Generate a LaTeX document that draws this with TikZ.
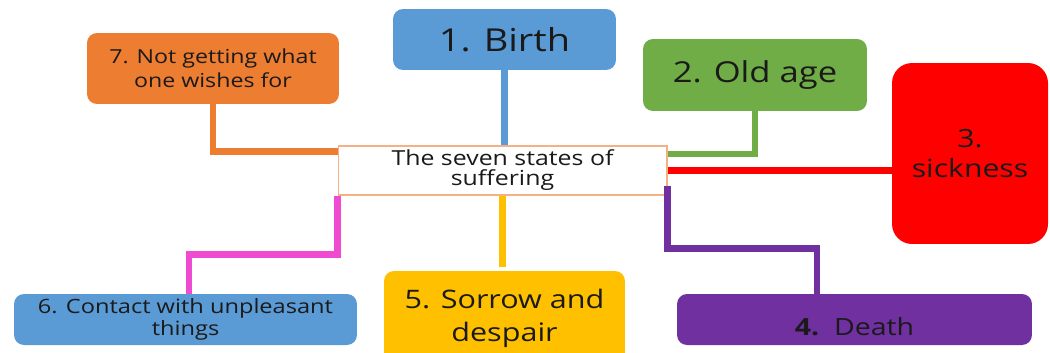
\documentclass[tikz,border=0pt]{standalone}
\usepackage{fontspec}
\setmainfont{Open Sans}[FakeStretch=1.2]
\usetikzlibrary{positioning}

\definecolor{sblue}{HTML}{5B9BD5}
\definecolor{sgreen}{HTML}{70AD47}
\definecolor{sred}{HTML}{FF0000}
\definecolor{spurple}{HTML}{7030A0}
\definecolor{sgold}{HTML}{FFC000}
\definecolor{sorange}{HTML}{ED7D31}
\definecolor{spink}{HTML}{F04BD0}
\definecolor{sedge}{HTML}{F4B183}
\definecolor{stext}{HTML}{1A1A1A}

\begin{document}
\begin{tikzpicture}[
      x=0.02cm, y=-0.02cm,
      snode/.style = {
          rounded corners=0.2cm,
          inner sep=0pt,
          align=center,
          text=stext,
        },
      link/.style = {
          line width=3.8pt,
        },
    ]

    \useasboundingbox (0,0) rectangle (1050,352);

    \node[draw=sedge, fill=white, line width=0.6pt, inner sep=0pt, align=center,
          text=stext, minimum width=6.58cm, minimum height=0.98cm,
          font=\fontsize{11.8}{11.4}\selectfont]
        (root) at (502.5,170.5) {The seven states of\\suffering};

    \node[snode, fill=sblue, minimum width=4.46cm, minimum height=1.22cm,
          font=\fontsize{18}{20}\selectfont]
        (birth) at (504.5,39.5) {1. Birth};

    \node[snode, fill=sgreen, minimum width=4.48cm, minimum height=1.44cm,
          font=\fontsize{16.4}{18}\selectfont]
        (old) at (755,75) {2. Old age};

    \node[snode, fill=sred, rounded corners=0.4cm, minimum width=3.12cm,
          minimum height=3.62cm, font=\fontsize{14.3}{17.6}\selectfont]
        (sick) at (970,153.5) {3.\\sickness};

    \node[snode, fill=spurple, minimum width=7.1cm, minimum height=1.02cm,
          font=\fontsize{13.5}{16}\selectfont]
        (death) at (854.5,319.5) {\raisebox{-0.15cm}[\height][\depth]{\textbf{4.}\ \ Death}};

    \node[snode, fill=sgold, minimum width=4.82cm, minimum height=1.88cm,
          font=\fontsize{14.5}{18.7}\selectfont]
        (sorrow) at (504.5,318) {5. Sorrow and\\despair};

    \node[snode, fill=sblue, minimum width=6.86cm, minimum height=1.02cm,
          font=\fontsize{11.2}{12.5}\selectfont]
        (contact) at (185.5,319.5) {6. Contact with unpleasant\\things};

    \node[snode, fill=sorange, minimum width=5.04cm, minimum height=1.42cm,
          font=\fontsize{11}{13.6}\selectfont]
        (wish) at (213,68.5) {7. Not getting what\\one wishes for};

    \draw[link, sblue] (birth.south) -- (birth.south |- root.north);

    \draw[link, sgreen] (old.south) |- ([yshift=-0.17cm]root.north east);

    \draw[link, sred] (root.east) -- (root.east -| sick.west);

    \draw[link, spurple] ([yshift=0.2cm]root.south east) -- ++(0,63)
        -| ([xshift=-0.75cm]death.north);

    \draw[link, sgold] (root.south) -- ([yshift=0.08cm]root.south |- sorrow.north);

    \draw[link, spink] (root.south west) -- ++(0,59)
        -| ([xshift=0.07cm]contact.north);

    \draw[link, sorange] (wish.south) |- ([yshift=-0.12cm]root.north west);

  \end{tikzpicture}
\end{document}
